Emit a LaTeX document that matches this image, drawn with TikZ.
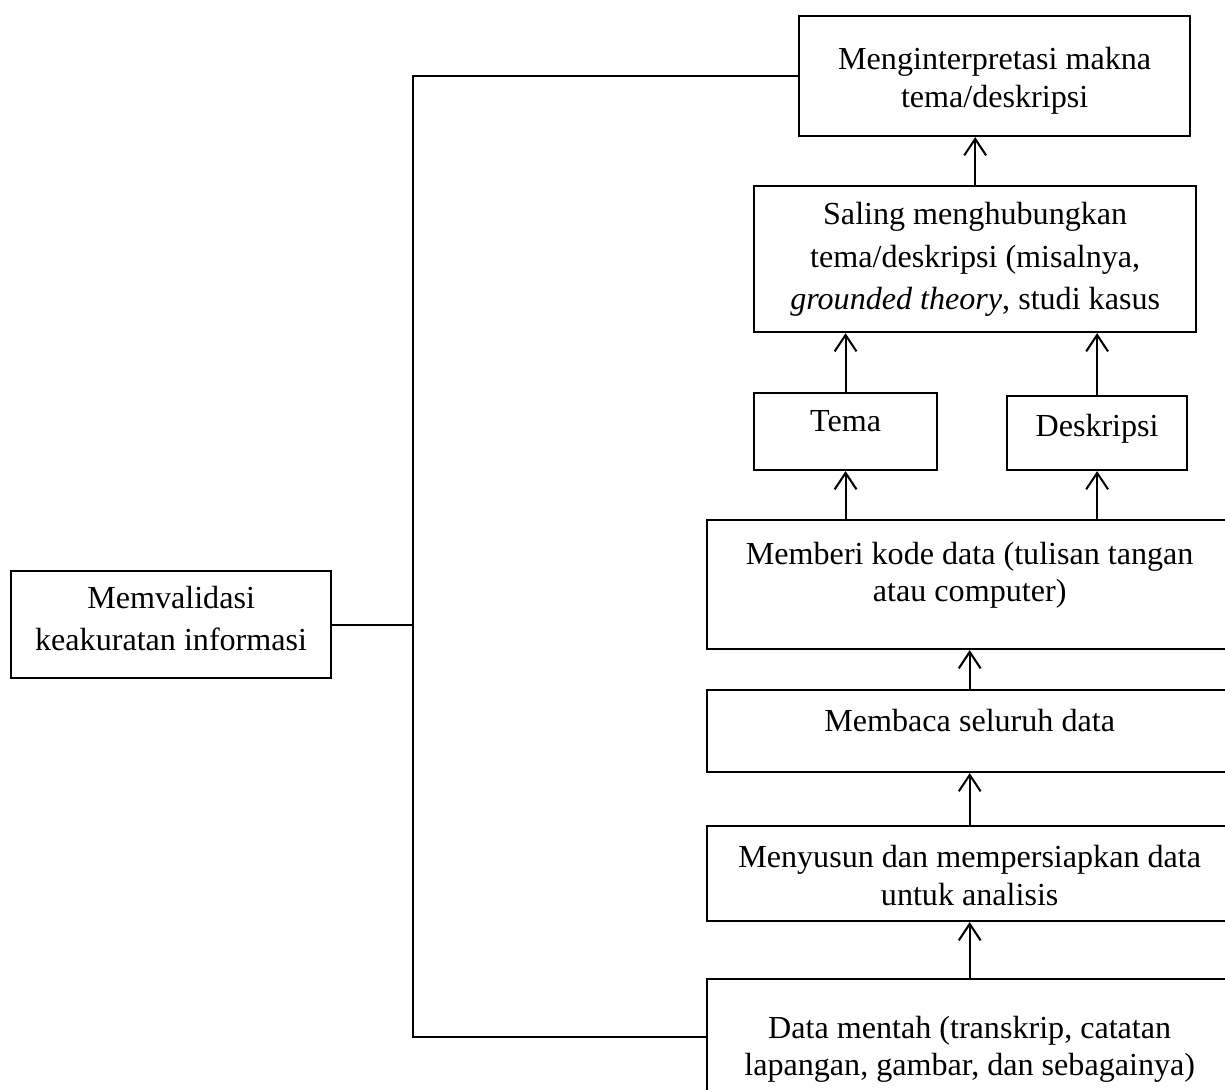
\documentclass[tikz,border=0pt]{standalone}
\usepackage{fontspec}
\setmainfont{Liberation Serif}
\usetikzlibrary{arrows.meta}

\begin{document}
\begin{tikzpicture}[
  x=0.01287cm, y=-0.01287cm,
  line width=0.75pt,
  kotak/.style={draw, inner sep=0pt, anchor=north west},
  isi/.style={align=center, anchor=north, inner sep=0pt, yshift=-#1,
              font=\fontsize{11.75}{13.8}\selectfont},
  panah/.style={-{Straight Barb[length=6pt, width=8pt]}},
]
  \useasboundingbox (0,0) rectangle (1225,1089);
  \clip (0,0) rectangle (1225,1089);

  % Top of the chain
  \node[kotak, minimum width=5.032cm, minimum height=1.544cm,
        label={[isi=11.5pt]north:{Menginterpretasi makna\\tema/deskripsi}}]
    (tafsir) at (798,15) {};
  \node[kotak, minimum width=5.689cm, minimum height=1.879cm,
        label={[isi=6pt, font=\fontsize{11.75}{15.5}\selectfont]north:{Saling menghubungkan\\
          tema/deskripsi (misalnya,\\\textit{grounded theory}, studi kasus}}]
    (hubung) at (753,185) {};

  % Themes and descriptions
  \node[kotak, minimum width=2.355cm, minimum height=0.991cm,
        label={[isi=6.5pt]north:{Tema}}]
    (tema) at (753,392) {};
  \node[kotak, minimum width=2.317cm, minimum height=0.952cm,
        label={[isi=6.5pt]north:{Deskripsi}}]
    (deskripsi) at (1006,395) {};

  % Lower steps
  \node[kotak, minimum width=6.757cm, minimum height=1.660cm,
        label={[isi=8pt]north:{Memberi kode data (tulisan tangan\\atau computer)}}]
    (kode) at (706,519) {};
  \node[kotak, minimum width=6.757cm, minimum height=1.055cm,
        label={[isi=7pt]north:{Membaca seluruh data}}]
    (baca) at (706,689) {};
  \node[kotak, minimum width=6.757cm, minimum height=1.223cm,
        label={[isi=7pt]north:{Menyusun dan mempersiapkan data\\untuk analisis}}]
    (susun) at (706,825) {};
  \node[kotak, minimum width=6.757cm, minimum height=1.956cm,
        label={[isi=13.5pt]north:{Data mentah (transkrip, catatan\\
          lapangan, gambar, dan sebagainya)}}]
    (mentah) at (706,978) {};

  % Validation box on the left
  \node[kotak, minimum width=4.118cm, minimum height=1.377cm,
        label={[isi=5.5pt, font=\fontsize{11.75}{15.3}\selectfont]north:{Memvalidasi\\
          keakuratan informasi}}]
    (validasi) at (10,570) {};

  % Arrows upward
  \draw[panah] (mentah.north) -- (susun.south);
  \draw[panah] (susun.north) -- (baca.south);
  \draw[panah] (baca.north) -- (kode.south);
  \draw[panah] (kode.north -| tema.south) -- (tema.south);
  \draw[panah] (kode.north -| deskripsi.south) -- (deskripsi.south);
  \draw[panah] (tema.north) -- (tema.north |- hubung.south);
  \draw[panah] (deskripsi.north) -- (deskripsi.north |- hubung.south);
  \draw[panah] (hubung.north) -- (hubung.north |- tafsir.south);

  % Validation bracket
  \coordinate (sudut) at (413,1037);
  \draw (tafsir.west) -| (sudut) -- (mentah.west |- sudut);
  \draw (validasi.east) -- (validasi.east -| sudut);

\end{tikzpicture}
\end{document}
